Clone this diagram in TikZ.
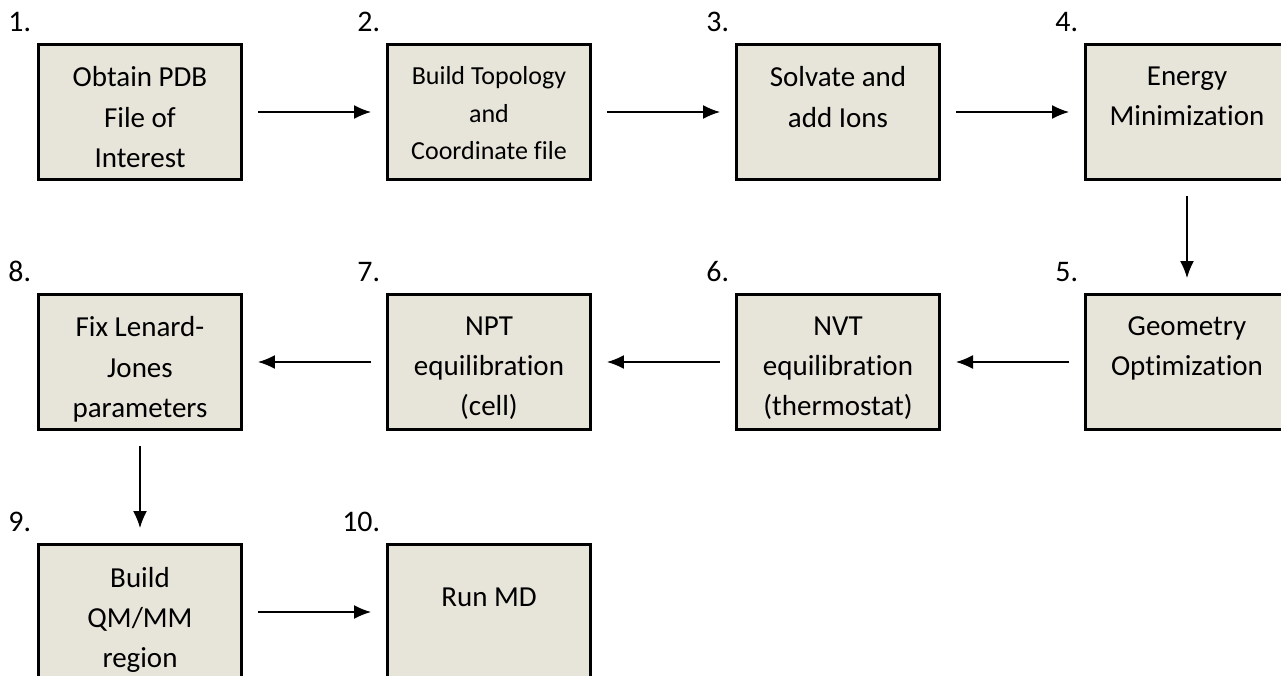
\documentclass[tikz,border=0pt]{standalone}
\usepackage{fontspec}
\setmainfont{Carlito}[Ligatures=NoCommon]
\usepackage{tikz}
\usetikzlibrary{arrows.meta,positioning}
\definecolor{boxfill}{RGB}{231,229,218}

\begin{document}
\begin{tikzpicture}[
    stepbox/.style={
        draw,
        line width=1.7pt,
        fill=boxfill,
        minimum width=4.06cm,
        minimum height=2.7cm,
        inner sep=0pt
    },
    steptext/.style={
        align=center,
        inner sep=0pt,
        font=\fontsize{16.5}{22.8}\selectfont,
        execute at begin node=\strut
    },
    smalltext/.style={
        steptext,
        font=\fontsize{14.8}{21.3}\selectfont
    },
    steplabel/.style={
        anchor=base east,
        inner sep=0pt,
        font=\fontsize{17}{20}\selectfont
    },
    line/.style={-{Latex[length=3.4mm, width=2.8mm]}, line width=0.85pt, shorten <=3mm, shorten >=3mm}
]

\clip (0,0) rectangle (25.62,-13.5);

% --- Top row ---
\node[stepbox] (s1) at (2.80,-2.24) {};
\node[stepbox] (s2) at (9.78,-2.24) {};
\node[stepbox] (s3) at (16.76,-2.24) {};
\node[stepbox] (s4) at (23.74,-2.24) {};

\node[steptext, below=0.47cm of s1.north] (t1) {Obtain PDB\\File of\\Interest};
\node[smalltext, below=0.47cm of s2.north] (t2) {Build Topology\\and\\Coordinate file};
\node[steptext, below=0.47cm of s3.north] (t3) {Solvate and\\add Ions};
\node[steptext, below=0.47cm of s4.north] (t4) {Energy\\Minimization};

% --- Middle row (right to left) ---
\node[stepbox] (s5) at (23.74,-7.24) {};
\node[stepbox] (s6) at (16.76,-7.24) {};
\node[stepbox] (s7) at (9.78,-7.24) {};
\node[stepbox] (s8) at (2.80,-7.24) {};

\node[steptext, below=0.47cm of s5.north] (t5) {Geometry\\Optimization};
\node[steptext, below=0.47cm of s6.north] (t6) {NVT\\equilibration\\(thermostat)};
\node[steptext, below=0.47cm of s7.north] (t7) {NPT\\equilibration\\(cell)};
\node[steptext, below=0.47cm of s8.north] (t8) {Fix Lenard-\\Jones\\parameters};

% --- Bottom row ---
\node[stepbox] (s9) at (2.80,-12.24) {};
\node[stepbox] (s10) at (9.78,-12.24) {};

\node[steptext, below=0.47cm of s9.north] (t9) {Build\\QM/MM\\region};
\node[steptext, below=0.71cm of s10.north] (t10) {Run MD};

% --- Step numbers ---
\node[steplabel] (n1) at ([shift={(-0.11,0.23)}]s1.north west) {1.};
\node[steplabel] (n2) at ([shift={(-0.11,0.23)}]s2.north west) {2.};
\node[steplabel] (n3) at ([shift={(-0.11,0.23)}]s3.north west) {3.};
\node[steplabel] (n4) at ([shift={(-0.11,0.23)}]s4.north west) {4.};
\node[steplabel] (n5) at ([shift={(-0.11,0.23)}]s5.north west) {5.};
\node[steplabel] (n6) at ([shift={(-0.11,0.23)}]s6.north west) {6.};
\node[steplabel] (n7) at ([shift={(-0.11,0.23)}]s7.north west) {7.};
\node[steplabel] (n8) at ([shift={(-0.11,0.23)}]s8.north west) {8.};
\node[steplabel] (n9) at ([shift={(-0.11,0.23)}]s9.north west) {9.};
\node[steplabel] (n10) at ([shift={(-0.11,0.23)}]s10.north west) {10.};

% --- Connections ---
\draw[line] (s1) -- (s2);
\draw[line] (s2) -- (s3);
\draw[line] (s3) -- (s4);
\draw[line] (s4) -- (s5);
\draw[line] (s5) -- (s6);
\draw[line] (s6) -- (s7);
\draw[line] (s7) -- (s8);
\draw[line] (s8) -- (s9);
\draw[line] (s9) -- (s10);

\end{tikzpicture}
\end{document}
